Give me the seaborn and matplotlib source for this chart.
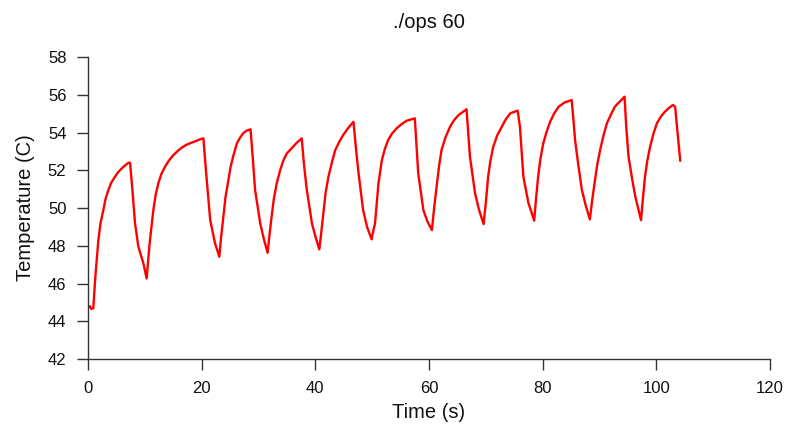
import matplotlib
matplotlib.use("Agg")
import matplotlib.pyplot as plt
import seaborn as sns
import pandas as pd

# Temperature trace over repeated load cycles
time_s = [
    0.0, 0.3, 0.6, 0.93, 1.3, 1.82, 2.2, 2.7, 3.1, 3.58, 4.1, 4.75, 5.3, 5.93, 6.5, 7.1, 7.4,
    7.8, 8.27, 8.86, 9.3, 9.74, 10.32,
    10.6, 10.9, 11.5, 11.9, 12.37, 12.9, 13.55, 14.2, 15.0, 15.7, 16.5, 17.3, 18.2, 19.0, 19.7, 20.3,
    20.8, 21.5, 22.35, 23.1,
    23.4, 23.8, 24.2, 24.7, 25.1, 25.6, 26.2, 26.7, 27.3, 27.9, 28.6,
    29.0, 29.4, 30.3, 30.9, 31.6,
    31.9, 32.3, 32.7, 33.2, 33.8, 34.4, 35.0, 35.8, 36.7, 37.6,
    38.0, 38.5, 39.4, 40.0, 40.7,
    41.0, 41.4, 41.8, 42.3, 42.9, 43.5, 44.2, 44.9, 45.8, 46.7,
    47.1, 47.6, 48.4, 49.1, 49.9,
    50.2, 50.5, 51.1, 51.7, 52.2, 52.8, 53.5, 54.3, 55.2, 56.1, 57.5,
    57.8, 58.1, 59.0, 59.7, 60.5,
    60.9, 61.4, 61.8, 62.2, 62.9, 63.7, 64.4, 65.2, 66.6,
    66.9, 67.2, 68.1, 68.8, 69.6,
    70.0, 70.4, 70.8, 71.3, 72.0, 72.8, 73.5, 74.3, 75.6,
    76.0, 76.6, 77.5, 78.0, 78.5,
    78.8, 79.2, 79.6, 80.1, 80.7, 81.3, 82.0, 82.8, 83.9, 85.1,
    85.4, 85.7, 86.3, 86.9, 87.6, 88.3,
    88.7, 89.2, 89.6, 90.1, 90.7, 91.3, 92.0, 92.7, 93.6, 94.4,
    94.7, 95.1, 95.7, 96.3, 97.3,
    97.6, 98.0, 98.4, 98.9, 99.5, 100.1, 100.8, 101.5, 102.2, 102.9, 103.3, 104.2,
]
temp_c = [
    44.7, 44.8, 44.65, 44.7, 46.4, 48.3, 49.2, 49.9, 50.5, 50.95, 51.35, 51.66, 51.9, 52.1, 52.25, 52.4, 52.4,
    51.0, 49.19, 47.95, 47.5, 47.07, 46.27,
    47.3, 48.3, 49.9, 50.7, 51.31, 51.8, 52.19, 52.5, 52.8, 53.0, 53.2, 53.35, 53.46, 53.55, 53.64, 53.69,
    51.8, 49.36, 48.13, 47.42,
    48.4, 49.5, 50.6, 51.5, 52.2, 52.8, 53.43, 53.7, 53.96, 54.1, 54.17,
    52.6, 50.95, 49.19, 48.4, 47.63,
    48.5, 49.54, 50.5, 51.3, 52.0, 52.54, 52.9, 53.16, 53.45, 53.69,
    52.3, 50.95, 49.19, 48.5, 47.81,
    48.6, 49.72, 50.8, 51.66, 52.4, 53.07, 53.5, 53.87, 54.25, 54.57,
    53.3, 51.84, 49.9, 49.0, 48.34,
    48.8, 49.19, 51.3, 52.54, 53.1, 53.6, 53.95, 54.22, 54.45, 54.63, 54.75,
    53.3, 51.84, 49.9, 49.3, 48.83,
    50.0, 51.31, 52.3, 53.07, 53.75, 54.31, 54.65, 54.93, 55.23,
    54.0, 52.72, 50.78, 49.9, 49.15,
    50.3, 51.66, 52.5, 53.25, 53.85, 54.31, 54.7, 55.02, 55.16,
    54.3, 51.66, 50.25, 49.8, 49.33,
    50.4, 51.66, 52.6, 53.43, 54.05, 54.57, 55.0, 55.37, 55.6, 55.72,
    54.7, 53.6, 52.2, 50.95, 50.1, 49.4,
    50.4, 51.48, 52.3, 53.07, 53.85, 54.49, 54.95, 55.37, 55.65, 55.9,
    54.3, 52.72, 51.6, 50.6, 49.36,
    50.4, 51.66, 52.5, 53.25, 53.95, 54.49, 54.85, 55.1, 55.3, 55.46, 55.37, 52.5,
]

x_ticks = [0, 20, 40, 60, 80, 100, 120]
y_ticks = [42, 44, 46, 48, 50, 52, 54, 56, 58]

df = pd.DataFrame({"Time (s)": time_s, "Temperature (C)": temp_c})

sns.set_style("ticks")
plt.rcParams["font.family"] = ["Liberation Sans", "DejaVu Sans"]

fig = plt.figure(figsize=(7.88, 4.30), dpi=100)
ax = fig.add_axes([0.1117, 0.165, 0.8655, 0.7024])

sns.lineplot(data=df, x="Time (s)", y="Temperature (C)", ax=ax,
             sort=False, estimator=None, color="#ff0000", linewidth=1.7)

ax.set_xlim(0, 120)
ax.set_ylim(42, 58)
ax.set_xticks(x_ticks)
ax.set_yticks(y_ticks)
ax.tick_params(axis="both", direction="out", length=8, width=1.0,
               color="#333333", labelsize=12, labelcolor="#111111", pad=7.5)
ax.margins(0)

sns.despine(ax=ax)
for side in ("left", "bottom"):
    ax.spines[side].set_color("#333333")
    ax.spines[side].set_linewidth(1.0)

ax.set_xlabel("Time (s)", fontsize=14.5, labelpad=5, color="#111111")
ax.set_ylabel("Temperature (C)", fontsize=14.5, labelpad=9, color="#111111")
ax.set_title("./ops 60", fontsize=14.5, pad=21, color="#111111")

fig.savefig("out.png", dpi=100)
